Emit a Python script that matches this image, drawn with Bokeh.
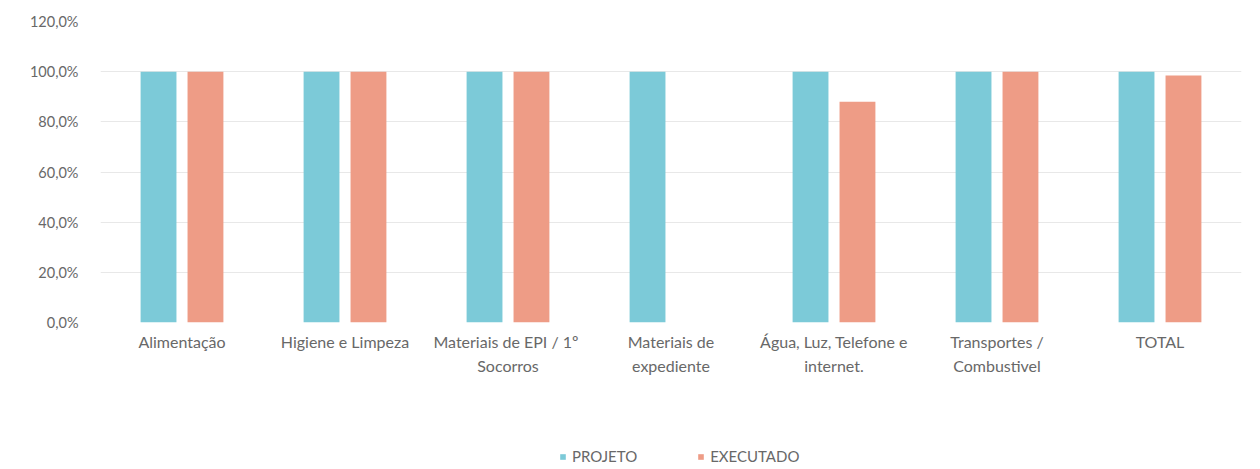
from bokeh.plotting import figure
from bokeh.models import ColumnDataSource, FactorRange, FixedTicker, Legend, LegendItem, Range1d
from bokeh.layouts import column
from bokeh.transform import dodge
from bokeh.embed import file_html
from bokeh.resources import INLINE

categories = ["Alimentação", "Higiene e Limpeza", "Materiais  de EPI / 1º\nSocorros",
              "Materiais de\nexpediente", "Água, Luz, Telefone e\ninternet.",
              "Transportes /\nCombustivel", "TOTAL"]
projeto = [1.0, 1.0, 1.0, 1.0, 1.0, 1.0, 1.0]
executado = [1.0, 1.0, 1.0, 0.0, 0.88, 1.0, 0.985]
series_names = ["PROJETO", "EXECUTADO"]
tick_values = [0.0, 0.2, 0.4, 0.6, 0.8, 1.0, 1.2]
tick_labels = ["0,0%", "20,0%", "40,0%", "60,0%", "80,0%", "100,0%", "120,0%"]

src = ColumnDataSource(dict(cat=categories, projeto=projeto, executado=executado))

font = "Lato"
cyan = "#7CCAD8"
salmon = "#EE9C86"
text_color = "#686868"

p = figure(x_range=FactorRange(*categories), y_range=(0, 1.2),
           width=1260, height=400, output_backend="svg", toolbar_location=None,
           min_border_left=100, min_border_top=21, min_border_right=19,
           min_border_bottom=78, outline_line_color=None)
p.x_range.range_padding = 0
p.x_range.group_padding = 0

p.vbar(x=dodge("cat", -0.144, range=p.x_range), top="projeto", width=0.22,
       source=src, fill_color=cyan, line_color=None)
p.vbar(x=dodge("cat", 0.144, range=p.x_range), top="executado", width=0.22,
       source=src, fill_color=salmon, line_color=None)

p.yaxis.ticker = FixedTicker(ticks=tick_values)
p.yaxis.major_label_overrides = {v: l for v, l in zip(tick_values, tick_labels)}
for ax in (p.xaxis[0], p.yaxis[0]):
    ax.axis_line_color = None
    ax.major_tick_line_color = None
    ax.minor_tick_line_color = None
    ax.major_label_text_font = font
    ax.major_label_text_color = text_color
p.yaxis.major_label_text_font_size = "14.5px"
p.xaxis.major_label_text_font_size = "16px"
p.yaxis.major_label_standoff = 16
p.xaxis.major_label_standoff = 3
p.xaxis.major_label_text_line_height = 1.3
p.xgrid.grid_line_color = None
p.ygrid.grid_line_color = "#e8e8e8"
p.ygrid.ticker = FixedTicker(ticks=tick_values)

# legend strip below the chart (its frame is aligned with the chart's frame)
p2 = figure(width=1260, height=69, output_backend="svg", toolbar_location=None,
            x_range=Range1d(0, 1), y_range=Range1d(0, 1),
            min_border=0, outline_line_color=None)
p2.axis.visible = False
p2.grid.visible = False
swatch = ColumnDataSource(dict(x=[-5.0], top=[-5.0]))
l1 = p2.vbar(x="x", top="top", width=0.1, source=swatch, fill_color=cyan, line_color=None)
l2 = p2.vbar(x="x", top="top", width=0.1, source=swatch, fill_color=salmon, line_color=None)
legend = Legend(items=[LegendItem(label=series_names[0], renderers=[l1]),
                       LegendItem(label=series_names[1], renderers=[l2])],
                orientation="horizontal", location=(459, 4),
                label_text_font=font, label_text_font_size="15px",
                label_text_color=text_color, border_line_color=None,
                background_fill_alpha=0,
                glyph_width=7, glyph_height=7, spacing=60, margin=0, padding=2,
                label_standoff=6)
p2.add_layout(legend)

layout = column(p, p2, spacing=0)
open("out.html", "w").write(file_html(layout, INLINE))
